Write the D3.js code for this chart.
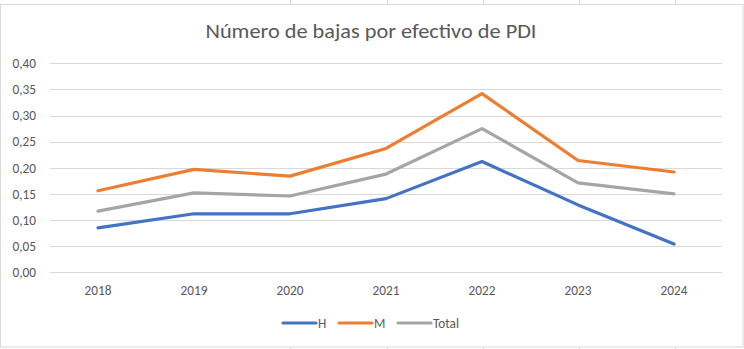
<!DOCTYPE html>
<html><head><meta charset="utf-8">
<script src="https://cdn.jsdelivr.net/npm/d3@7"></script>
<style>body{margin:0;background:#fff;}svg{display:block;}</style>
</head><body>
<script>
const categories = ["2018","2019","2020","2021","2022","2023","2024"];
const seriesNames = ["H","M","Total"];
const valuesH = [0.085,0.112,0.112,0.141,0.212,0.129,0.054];
const valuesM = [0.156,0.197,0.184,0.237,0.342,0.214,0.192];
const valuesTotal = [0.117,0.152,0.146,0.188,0.275,0.171,0.150];
const yTicks = [0,0.05,0.10,0.15,0.20,0.25,0.30,0.35,0.40];
const colors = ["#4472C4","#ED7D31","#A5A5A5"];
const title = "Número de bajas por efectivo de PDI";

const W=744,H=349;
const FONT="Calibri, Carlito, 'Liberation Sans', sans-serif";
const svg=d3.select("body").append("svg").attr("width",W).attr("height",H);
[290,387,483,579,675].forEach(x=>{
  svg.append("line").attr("x1",x+0.5).attr("x2",x+0.5).attr("y1",0).attr("y2",4).attr("stroke","#d4d4d4");
  svg.append("line").attr("x1",x+0.5).attr("x2",x+0.5).attr("y1",347).attr("y2",349).attr("stroke","#d4d4d4");
});
svg.append("rect").attr("x",0.5).attr("y",4.5).attr("width",742.5).attr("height",342.5)
  .attr("fill","#fff").attr("stroke","#d9d9d9");

const x=d3.scaleBand().domain(categories).range([50,722]);
const y=d3.scaleLinear().domain([0,0.40]).range([272.3,63.3]);
const fmt=d=>d3.format(".2f")(d).replace(".",",");

svg.append("g").selectAll("line").data(yTicks).join("line")
  .attr("x1",50).attr("x2",722).attr("y1",d=>Math.round(y(d))+0.5).attr("y2",d=>Math.round(y(d))+0.5)
  .attr("stroke","#d9d9d9").attr("stroke-width",1);

const yAxis=svg.append("g").attr("transform","translate(50,0)")
  .call(d3.axisLeft(y).tickValues(yTicks).tickFormat(fmt).tickSize(0).tickPadding(14));
yAxis.select(".domain").remove();
yAxis.selectAll("text").attr("fill","#595959").style("font-family",FONT).style("font-size","13.3px");

const xAxis=svg.append("g").attr("transform","translate(0,272)")
  .call(d3.axisBottom(x).tickSize(0).tickPadding(14));
xAxis.select(".domain").remove();
xAxis.selectAll("text").attr("fill","#595959").style("font-family",FONT).style("font-size","13.3px");

const allSeries=[valuesH,valuesM,valuesTotal];
const line=d3.line().x((d,i)=>x(categories[i])+x.bandwidth()/2).y(d=>y(d));
allSeries.forEach((vals,k)=>{
  svg.append("path").datum(vals).attr("d",line).attr("fill","none")
    .attr("stroke",colors[k]).attr("stroke-width",3.2).attr("stroke-linecap","round").attr("stroke-linejoin","round");
});

svg.append("text").attr("x",371).attr("y",38).attr("text-anchor","middle")
  .attr("fill","#595959").style("font-family",FONT)
  .style("font-size","20px").attr("textLength",331).attr("lengthAdjust","spacingAndGlyphs").text(title);

const legX=[283,339,398];
seriesNames.forEach((n,k)=>{
  svg.append("line").attr("x1",legX[k]).attr("x2",legX[k]+33).attr("y1",323).attr("y2",323)
    .attr("stroke",colors[k]).attr("stroke-width",3.2).attr("stroke-linecap","round");
  svg.append("text").attr("x",legX[k]+35).attr("y",323).attr("dominant-baseline","central")
    .attr("fill","#595959").style("font-family",FONT).style("font-size","13.3px").text(n);
});
</script>
</body></html>
